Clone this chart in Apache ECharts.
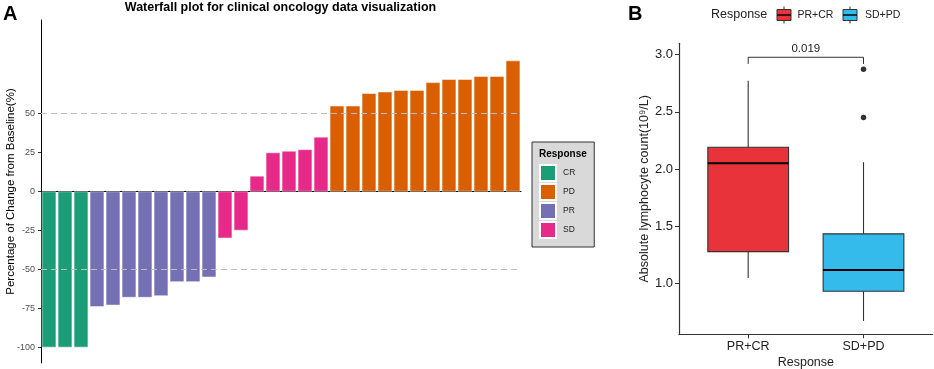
<!DOCTYPE html>
<html><head><meta charset="utf-8">
<script src="https://cdn.jsdelivr.net/npm/echarts@6/dist/echarts.min.js"></script>
<style>html,body{margin:0;padding:0;background:#fff}#c{width:934px;height:369px}</style>
</head><body><div id="c"></div>
<script>
// ---------- Panel A data ----------
const waterfallCategories = ['P01','P02','P03','P04','P05','P06','P07','P08','P09','P10',
  'P11','P12','P13','P14','P15','P16','P17','P18','P19','P20',
  'P21','P22','P23','P24','P25','P26','P27','P28','P29','P30'];
const waterfallResponse = ['CR','CR','CR','PR','PR','PR','PR','PR','PR','PR',
  'PR','SD','SD','SD','SD','SD','SD','SD','PD','PD',
  'PD','PD','PD','PD','PD','PD','PD','PD','PD','PD'];
const waterfallValues = [-100,-100,-100,-74,-73,-68,-68,-67,-58,-58,
  -55,-30,-25,10,25,26,27,35,55,55,
  63,64,65,65,70,72,72,74,74,84];
const responseLevels = ['CR','PD','PR','SD'];
const waterfallTicks = [-100,-75,-50,-25,0,25,50];
const referenceLines = [50,-50];

// ---------- Panel B data ----------
const boxGroups = ['PR+CR','SD+PD'];
const boxStats = [[1.05,1.28,2.05,2.19,2.77],[0.675,0.935,1.12,1.435,2.06]]; // min,Q1,median,Q3,max
const boxOutliers = [[], [2.45, 2.87]];
const boxTicks = [1.0,1.5,2.0,2.5,3.0];
const pValueLabel = '0.019';
const bracketLevel = 2.975;
const bracketTip = 2.917;

// ---------- styles ----------
const levelColors = {CR:'#1B9E77', PD:'#D95F02', PR:'#7570B3', SD:'#E7298A'};
const boxColors = ['#E8333B','#35BAEC'];
const FONT = 'Liberation Sans, Arial, Helvetica, sans-serif';

const barSeries = responseLevels.map((lvl, k) => ({
  name: lvl, type: 'bar', xAxisIndex: 0, yAxisIndex: 0,
  barWidth: '90%', barGap: '-100%',
  itemStyle: {color: levelColors[lvl], borderColor: '#fff', borderWidth: 0.5},
  data: waterfallValues.map((v, i) => waterfallResponse[i] === lvl ? v : '-'),
  markLine: k === 0 ? {
    silent: true, symbol: ['none','none'], label: {show: false},
    lineStyle: {color: '#BEBEBE', type: [6,4], width: 1},
    data: referenceLines.map(v => ({yAxis: v}))
  } : undefined
}));

function renderBox(params, api) {
  const x = api.value(0);
  const lo = api.value(1), q1 = api.value(2), med = api.value(3), q3 = api.value(4), hi = api.value(5);
  const hw = 0.35;
  const pTL = api.coord([x - hw, q3]), pBR = api.coord([x + hw, q1]);
  const pHi = api.coord([x, hi]), pLo = api.coord([x, lo]);
  const pQ3 = api.coord([x, q3]), pQ1 = api.coord([x, q1]);
  const pML = api.coord([x - hw, med]), pMR = api.coord([x + hw, med]);
  return {type: 'group', children: [
    {type: 'line', shape: {x1: pHi[0], y1: pHi[1], x2: pQ3[0], y2: pQ3[1]}, style: {stroke: '#333', lineWidth: 1.1}},
    {type: 'line', shape: {x1: pQ1[0], y1: pQ1[1], x2: pLo[0], y2: pLo[1]}, style: {stroke: '#333', lineWidth: 1.1}},
    {type: 'rect', shape: {x: pTL[0], y: pTL[1], width: pBR[0] - pTL[0], height: pBR[1] - pTL[1]},
      style: {fill: boxColors[params.dataIndex], stroke: '#333', lineWidth: 1.1}},
    {type: 'line', shape: {x1: pML[0], y1: pML[1], x2: pMR[0], y2: pMR[1]}, style: {stroke: '#000', lineWidth: 2}}
  ]};
}

function renderBracket(params, api) {
  const a = api.value(0), b = api.value(1), lvl = api.value(2), tip = api.value(3);
  const p1 = api.coord([a, tip]), p2 = api.coord([a, lvl]), p3 = api.coord([b, lvl]), p4 = api.coord([b, tip]);
  return {type: 'group', children: [
    {type: 'polyline', shape: {points: [p1, p2, p3, p4]}, style: {stroke: '#333', lineWidth: 1, fill: null}},
    {type: 'text', x: (p2[0] + p3[0]) / 2, y: p2[1] - 2,
      style: {text: pValueLabel, fill: '#222', font: '11.5px ' + FONT, align: 'center', verticalAlign: 'bottom'}}
  ]};
}

const legendBItems = boxGroups.map((g, i) => {
  const kx = [777, 843][i];
  const tx = [797.5, 865][i];
  return [
    {type: 'line', shape: {x1: kx + 7, y1: 6.5, x2: kx + 7, y2: 23.5}, style: {stroke: '#333', lineWidth: 1}},
    {type: 'rect', shape: {x: kx, y: 9.5, width: 14, height: 11}, style: {fill: boxColors[i], stroke: '#333', lineWidth: 1}},
    {type: 'line', shape: {x1: kx, y1: 15, x2: kx + 14, y2: 15}, style: {stroke: '#000', lineWidth: 1.4}},
    {type: 'text', x: tx, y: 15, style: {text: g, font: '10.5px ' + FONT, fill: '#222', verticalAlign: 'middle'}}
  ];
}).flat();

const option = {
  animation: false,
  backgroundColor: '#fff',
  textStyle: {fontFamily: FONT},
  grid: [
    {left: 41, top: 20, width: 480, height: 343, containLabel: false, outerBoundsMode: 'none'},
    {left: 679, top: 43.3, width: 253.7, height: 291, containLabel: false, outerBoundsMode: 'none'}
  ],
  xAxis: [
    {type: 'category', gridIndex: 0, data: waterfallCategories,
      axisLine: {onZero: true, lineStyle: {color: '#000', width: 1}},
      axisTick: {show: false}, axisLabel: {show: false}, splitLine: {show: false}},
    {type: 'value', gridIndex: 1, min: 0.4, max: 2.6,
      name: 'Response', nameLocation: 'middle', nameGap: 21.5, nameMoveOverlap: false,
      nameTextStyle: {fontSize: 12.5, color: '#222', fontFamily: FONT},
      axisLine: {onZero: false, lineStyle: {color: '#333', width: 1.2}},
      axisTick: {show: true, length: 4, customValues: [1, 2], lineStyle: {color: '#333'}},
      axisLabel: {customValues: [1, 2], formatter: v => boxGroups[Math.round(v) - 1],
        fontSize: 12.5, color: '#222', margin: 6},
      splitLine: {show: false}}
  ],
  yAxis: [
    {type: 'value', gridIndex: 0, min: -110, max: 110,
      name: 'Percentage of Change from Baseline(%)', nameLocation: 'middle', nameGap: 24, nameRotate: 90,
      nameMoveOverlap: false,
      nameTextStyle: {fontSize: 11.5, color: '#000', fontFamily: FONT},
      axisLine: {show: true, lineStyle: {color: '#000', width: 1}},
      axisTick: {show: true, length: 3, customValues: waterfallTicks, lineStyle: {color: '#333'}},
      axisLabel: {customValues: waterfallTicks, fontSize: 9, color: '#4D4D4D', margin: 6},
      splitLine: {show: false}},
    {type: 'value', gridIndex: 1, min: 0.559, max: 3.097,
      name: 'Absolute lymphocyte count(10⁹/L)', nameLocation: 'middle', nameGap: 28, nameRotate: 90,
      nameMoveOverlap: false,
      nameTextStyle: {fontSize: 12.5, color: '#222', fontFamily: FONT},
      axisLine: {show: true, lineStyle: {color: '#333', width: 1.2}},
      axisTick: {show: true, length: 4, customValues: boxTicks, lineStyle: {color: '#333'}},
      axisLabel: {customValues: boxTicks, formatter: v => v.toFixed(1), fontSize: 13, color: '#222', margin: 6},
      splitLine: {show: false}}
  ],
  legend: {
    data: responseLevels, orient: 'vertical', left: 532, top: 142,
    padding: [22, 19, 8, 7], backgroundColor: '#D9D9D9', borderColor: '#333', borderWidth: 1,
    itemWidth: 16, itemHeight: 16, itemGap: 1, icon: 'rect',
    textStyle: {fontSize: 8.5, color: '#1a1a1a', fontFamily: FONT, padding: [0, 0, 0, 2]},
    selectedMode: false
  },
  series: [
    ...barSeries,
    {type: 'custom', name: 'box', xAxisIndex: 1, yAxisIndex: 1, renderItem: renderBox,
      encode: {x: 0, y: [1, 2, 3, 4, 5]},
      data: boxStats.map((s, i) => [i + 1, ...s])},
    {type: 'scatter', name: 'outliers', xAxisIndex: 1, yAxisIndex: 1, symbolSize: 5.5,
      itemStyle: {color: '#000'},
      data: boxOutliers.flatMap((arr, i) => arr.map(v => [i + 1, v]))},
    {type: 'custom', name: 'bracket', xAxisIndex: 1, yAxisIndex: 1, renderItem: renderBracket,
      encode: {x: [0, 1], y: [2, 3]},
      data: [[1, 2, bracketLevel, bracketTip]]}
  ],
  graphic: [
    {type: 'text', x: 3, y: 14, style: {text: 'A', font: 'bold 20px ' + FONT, fill: '#000', verticalAlign: 'middle'}},
    {type: 'text', x: 280.5, y: 7.5, style: {text: 'Waterfall plot for clinical oncology data visualization',
      font: 'bold 12.5px ' + FONT, fill: '#000', align: 'center', verticalAlign: 'middle'}},
    {type: 'text', x: 539, y: 154, z: 10, style: {text: 'Response', font: 'bold 10px ' + FONT, fill: '#000', verticalAlign: 'middle'}},
    {type: 'text', x: 628, y: 14, style: {text: 'B', font: 'bold 20px ' + FONT, fill: '#000', verticalAlign: 'middle'}},
    {type: 'text', x: 711, y: 15, style: {text: 'Response', font: '12.5px ' + FONT, fill: '#222', verticalAlign: 'middle'}},
    ...legendBItems
  ]
};

const chart = echarts.init(document.getElementById('c'), null, {renderer: 'canvas'});
chart.setOption(option);
</script>
</body></html>
